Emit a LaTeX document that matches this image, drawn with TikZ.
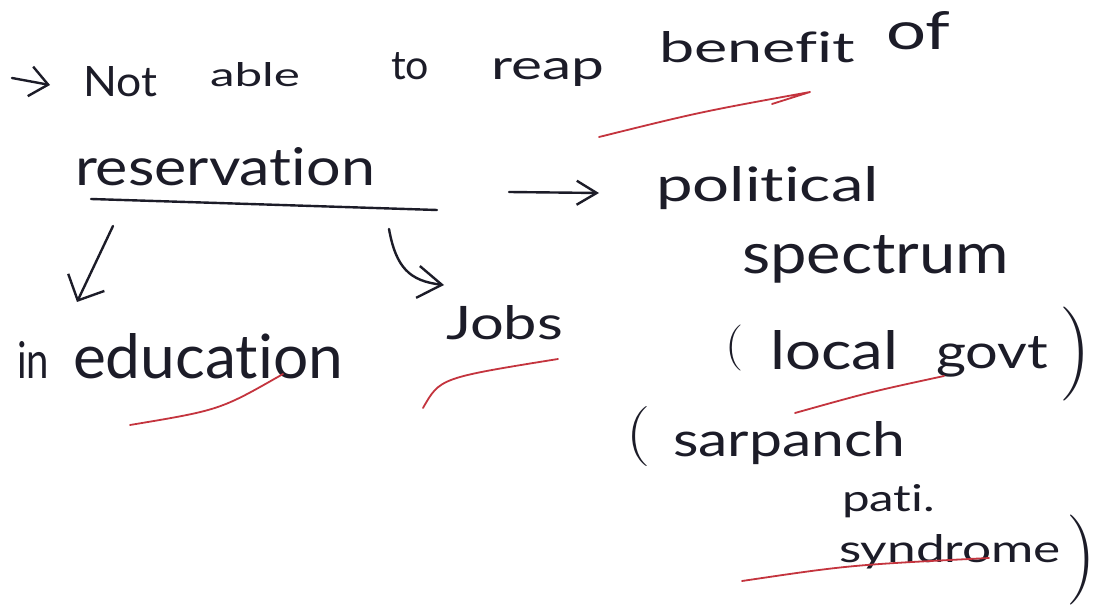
\documentclass[tikz,border=0pt]{standalone}
\usepackage{fontspec}
\setmainfont{Lato}[Ligatures=NoCommon]
\newfontfamily\parenfont{Latin Modern Roman}
\usetikzlibrary{arrows.meta}
\definecolor{ink}{HTML}{1C1C28}
\definecolor{redink}{HTML}{C4343E}
% a word scaled to a given width and height (pt)
\newcommand{\hw}[3]{\resizebox{#1pt}{#2pt}{#3}}
% a bracket scaled to a given width and total height (pt)
\newcommand{\hwp}[3]{\resizebox*{#1pt}{#2pt}{#3}}
\begin{document}
\begin{tikzpicture}[x=1pt,y=-1pt,
  word/.style={inner sep=0pt, outer sep=0pt, anchor=base west, text=ink,
    font=\fontsize{40}{40}\selectfont},
  paren/.style={inner sep=0pt, outer sep=0pt, anchor=center, text=ink,
    font=\parenfont\fontsize{40}{40}\selectfont},
  pen/.style={draw=ink, line width=2.4pt, line cap=round, line join=round},
  redpen/.style={draw=redink, line width=1.8pt, line cap=round, line join=round}
]
\fill[white] (0,0) rectangle (1098,612);
\useasboundingbox (0,0) rectangle (1098,612);

% first line
\coordinate (b0) at (12,78);
\coordinate (b1) at (50,85);
\draw[pen, -{Straight Barb[length=18pt,width=30pt]}] (b0) -- (b1);
\node[word] (w1) at (83,97)  {\hw{74}{30}{Not}};
\node[word] (w2) at (210,87) {\hw{90}{24}{able}};
\node[word] (w3) at (391,80) {\hw{38}{27}{to}};
\node[word] (w4) at (491,80) {\hw{113}{21}{reap}};
\node[word] (w5) at (659,63) {\hw{196}{31}{benefit}};
\node[word] (w6) at (886,50) {\hw{64}{38}{of}};
\draw[redpen] (599,137) .. controls (700,112) .. (810,92) -- (772,104);

% reservation and its branches
\node[word] (res) at (75,186) {\hw{300}{38}{reservation}};
\coordinate (ul0) at (91,199);
\coordinate (ul1) at (437,210);
\draw[pen] (ul0) .. controls (250,204) .. (ul1);

\node[word] (pol)  at (656,202) {\hw{223}{35}{political}};
\node[word] (spec) at (742,274) {\hw{267}{38}{spectrum}};
\coordinate (a1s) at (509,192);
\coordinate (a1e) at (599,193);
\draw[pen, -{Straight Barb[length=20pt,width=24pt]}] (a1s) -- (a1e);

\node[word] (in)  at (17,378) {\hw{32}{37}{in}};
\node[word] (edu) at (73,378) {\hw{270}{45}{education}};
\coordinate (a2s) at (113,226);
\coordinate (a2e) at (77,302);
\draw[pen, -{Straight Barb[length=20pt,width=40pt]}] (a2s) -- (a2e);
\draw[redpen] (130,425) .. controls (220,410) .. (283,374);

\node[word] (jobs) at (446,340) {\hw{117}{34}{Jobs}};
\coordinate (a3s) at (389,229);
\coordinate (a3e) at (444,285);
\draw[pen, -{Straight Barb[length=24pt,width=32pt]}]
  (a3s) .. controls (396,268) and (410,281) .. (a3e);
\draw[redpen] (423,408) .. controls (440,378) .. (558,359);

% (local govt)
\node[paren] (lp1)   at (734,348)  {\hwp{18}{46}{(}};
\node[word]  (local) at (770,370)  {\hw{128}{39}{local}};
\node[word]  (govt)  at (936,369)  {\hw{112}{32}{govt}};
\node[paren] (rp1)   at (1075,354) {\hwp{32}{94}{)}};
\draw[redpen] (795,413) .. controls (870,392) .. (944,376);

% (sarpanch pati. syndrome)
\node[paren] (lp2)  at (638,437)  {\hwp{24}{60}{(}};
\node[word]  (sar)  at (673,456)  {\hw{232}{35}{sarpanch}};
\node[word]  (pati) at (842,511)  {\hw{93}{27}{pati.}};
\node[word]  (syn)  at (839,562)  {\hw{222}{28}{syndrome}};
\node[paren] (rp2)  at (1081,560) {\hwp{30}{90}{)}};
\draw[redpen] (742,581) .. controls (850,565) .. (989,558);
\end{tikzpicture}
\end{document}
